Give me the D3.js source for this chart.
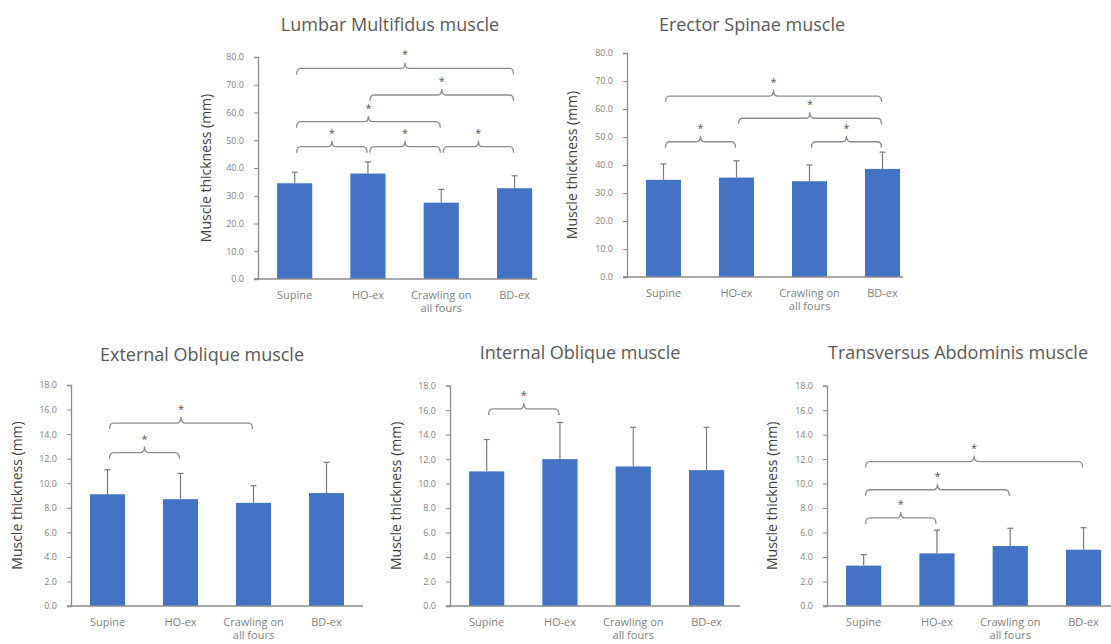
<!DOCTYPE html>
<html>
<head>
<meta charset="utf-8">
<script src="https://cdn.jsdelivr.net/npm/d3@7"></script>
<style>
  html, body { margin: 0; padding: 0; background: #ffffff; }
  svg { display: block; }
  text { font-family: "Open Sans", "Noto Sans", sans-serif; }
</style>
</head>
<body>
<svg id="chart" width="1111" height="644"></svg>
<script>
// ---------- DATA ----------
const categories = ["Supine", "HO-ex", "Crawling on all fours", "BD-ex"];
const categoryLines = [["Supine"], ["HO-ex"], ["Crawling on", "all fours"], ["BD-ex"]];
const titles = ["Lumbar Multifidus muscle", "Erector Spinae muscle", "External Oblique muscle",
                "Internal Oblique muscle", "Transversus Abdominis muscle"];
const yLabel = "Muscle thickness (mm)";

const lmMeans = [34.5, 38.0, 27.5, 32.7];
const lmSD    = [4.0, 4.2, 4.8, 4.5];
const esMeans = [34.7, 35.5, 34.2, 38.6];
const esSD    = [5.7, 6.0, 5.8, 6.0];
const eoMeans = [9.1, 8.7, 8.4, 9.2];
const eoSD    = [2.0, 2.1, 1.4, 2.5];
const ioMeans = [11.0, 12.0, 11.4, 11.1];
const ioSD    = [2.6, 3.0, 3.2, 3.5];
const taMeans = [3.3, 4.3, 4.9, 4.6];
const taSD    = [0.9, 1.9, 1.45, 1.8];

const backTicks = [0, 10, 20, 30, 40, 50, 60, 70, 80];
const abdTicks  = [0, 2, 4, 6, 8, 10, 12, 14, 16, 18];

// significance pairs: [from index, to index, level in mm]
const lmSig = [[0, 1, 47.7], [1, 2, 47.7], [2, 3, 47.7], [0, 2, 56.7], [1, 3, 66.3], [0, 3, 75.9]];
const esSig = [[0, 1, 48.3], [2, 3, 48.3], [1, 3, 56.7], [0, 3, 64.6]];
const eoSig = [[0, 1, 12.5], [0, 2, 14.9]];
const ioSig = [[0, 1, 16.1]];
const taSig = [[0, 1, 7.2], [0, 2, 9.5], [0, 3, 11.8]];

// ---------- LAYOUT ----------
const panels = [
  { title: titles[0], means: lmMeans, sd: lmSD, ticks: backTicks, max: 80, sig: lmSig,
    ax: 258, top: 57, bottom: 279, step: 73.3, axEnd: 537, titleX: 390, titleY: 31, labX: 207 },
  { title: titles[1], means: esMeans, sd: esSD, ticks: backTicks, max: 80, sig: esSig,
    ax: 627, top: 53, bottom: 277, step: 73.0, axEnd: 903, titleX: 752, titleY: 31, labX: 573 },
  { title: titles[2], means: eoMeans, sd: eoSD, ticks: abdTicks, max: 18, sig: eoSig,
    ax: 71, top: 385, bottom: 606, step: 73.0, axEnd: 363, titleX: 202, titleY: 361, labX: 18 },
  { title: titles[3], means: ioMeans, sd: ioSD, ticks: abdTicks, max: 18, sig: ioSig,
    ax: 450, top: 385.7, bottom: 606, step: 73.3, axEnd: 740, titleX: 580, titleY: 359, labX: 397 },
  { title: titles[4], means: taMeans, sd: taSD, ticks: abdTicks, max: 18, sig: taSig,
    ax: 827, top: 385.7, bottom: 606, step: 73.3, axEnd: 1111, titleX: 958, titleY: 359, labX: 773 }
];

const svg = d3.select("#chart");
const barColor = "#4472C4";
const axisColor = "#8c8c8c";
const textGray = "#7f7f7f";

panels.forEach(p => {
  const g = svg.append("g");
  const y = d3.scaleLinear().domain([0, p.max]).range([p.bottom, p.top]);
  const x = d3.scaleBand().domain(categories)
    .range([p.ax, p.ax + 4 * p.step]).paddingInner(0.52).paddingOuter(0.26);

  // title
  g.append("text").attr("x", p.titleX).attr("y", p.titleY)
    .attr("text-anchor", "middle").attr("font-size", 18).attr("fill", "#595959")
    .text(p.title);

  // y axis label
  g.append("text")
    .attr("transform", `translate(${p.labX},${(p.top + p.bottom) / 2}) rotate(-90)`)
    .attr("text-anchor", "middle").attr("dominant-baseline", "middle")
    .attr("font-size", 14).attr("fill", "#404040").text(yLabel);

  // bars
  g.selectAll("rect.bar").data(p.means).join("rect").attr("class", "bar")
    .attr("x", (d, i) => x(categories[i]))
    .attr("width", x.bandwidth())
    .attr("y", d => y(d))
    .attr("height", d => y(0) - y(d))
    .attr("fill", barColor);

  // error bars (upper only)
  const eb = g.selectAll("g.err").data(p.means).join("g").attr("class", "err");
  eb.append("line")
    .attr("x1", (d, i) => x(categories[i]) + x.bandwidth() / 2)
    .attr("x2", (d, i) => x(categories[i]) + x.bandwidth() / 2)
    .attr("y1", d => y(d))
    .attr("y2", (d, i) => y(d + p.sd[i]))
    .attr("stroke", "#7a7a7a").attr("stroke-width", 1.2);
  eb.append("line")
    .attr("x1", (d, i) => x(categories[i]) + x.bandwidth() / 2 - 3)
    .attr("x2", (d, i) => x(categories[i]) + x.bandwidth() / 2 + 3)
    .attr("y1", (d, i) => y(d + p.sd[i]))
    .attr("y2", (d, i) => y(d + p.sd[i]))
    .attr("stroke", "#7a7a7a").attr("stroke-width", 1.2);

  // y axis
  const yAxis = d3.axisLeft(y).tickValues(p.ticks).tickFormat(d3.format(".1f")).tickSize(4).tickPadding(10);
  const ya = g.append("g").attr("transform", `translate(${p.ax},0)`).call(yAxis);
  ya.select(".domain").attr("stroke", axisColor).attr("stroke-width", 1.3);
  ya.selectAll(".tick line").attr("stroke", axisColor);
  ya.selectAll(".tick text").attr("fill", textGray).attr("font-size", 9);

  // x axis line
  g.append("line").attr("x1", p.ax - 4).attr("x2", p.axEnd)
    .attr("y1", y(0)).attr("y2", y(0))
    .attr("stroke", axisColor).attr("stroke-width", 1.3);

  // x labels
  categoryLines.forEach((lines, i) => {
    const t = g.append("text")
      .attr("x", x(categories[i]) + x.bandwidth() / 2)
      .attr("y", y(0) + 20)
      .attr("text-anchor", "middle").attr("font-size", 11).attr("fill", textGray);
    lines.forEach((ln, k) => {
      t.append("tspan").attr("x", x(categories[i]) + x.bandwidth() / 2)
        .attr("dy", k === 0 ? 0 : 13).text(ln);
    });
  });

  // significance braces
  p.sig.forEach(([a, b, lvl]) => {
    const x1 = x(categories[a]) + x.bandwidth() / 2 + 2;
    const x2 = x(categories[b]) + x.bandwidth() / 2 - 1;
    const yy = y(lvl);
    const xm = (x1 + x2) / 2;
    const h = 6, r = 4;
    const path = `M${x1},${yy + h} Q${x1},${yy} ${x1 + r},${yy} L${xm - r},${yy} Q${xm},${yy} ${xm},${yy - h}`
      + ` Q${xm},${yy} ${xm + r},${yy} L${x2 - r},${yy} Q${x2},${yy} ${x2},${yy + h}`;
    g.append("path").attr("d", path).attr("fill", "none")
      .attr("stroke", "#8c8c8c").attr("stroke-width", 1.3);
    g.append("text").attr("x", xm).attr("y", yy - 10)
      .attr("text-anchor", "middle").attr("font-size", 11).attr("fill", "#555")
      .text("*");
  });
});
</script>
</body>
</html>
